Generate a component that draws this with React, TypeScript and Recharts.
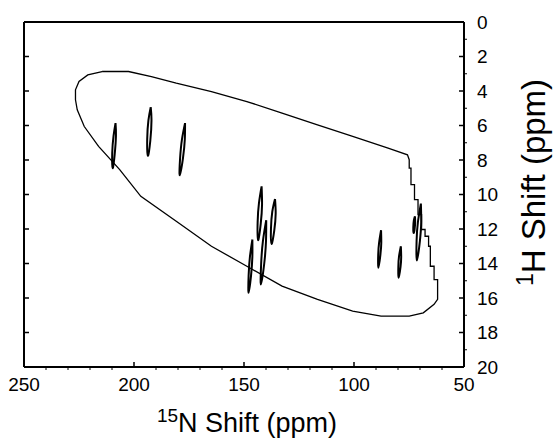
import { ComposedChart, Line, XAxis, YAxis, Label } from "recharts";

const FONT = '"Liberation Sans", Arial, Helvetica, sans-serif';

// axis ticks
const N_TICKS = [50, 60, 70, 80, 90, 100, 110, 120, 130, 140, 150, 160, 170, 180, 190, 200, 210, 220, 230, 240, 250];
const N_LABELS = [50, 100, 150, 200, 250];
const N_TOP_TICKS = [100, 150, 200];
const H_TICKS = [0, 1, 2, 3, 4, 5, 6, 7, 8, 9, 10, 11, 12, 13, 14, 15, 16, 17, 18, 19, 20];
const H_LABELS = [0, 2, 4, 6, 8, 10, 12, 14, 16, 18, 20];
const H_LEFT_TICKS = [2, 4, 6, 8, 10, 12, 14, 16, 18];

// excitation envelope, [15N ppm, 1H ppm]
const ENVELOPE: [number, number][] = [
  [214.5, 2.87], [202.5, 2.87], [192.1, 3.16], [180.8, 3.55], [164.8, 4.03], [148.7, 4.61],
  [132.7, 5.28], [116.6, 5.96], [100.6, 6.63], [84.5, 7.31], [75.7, 7.7], [74.9, 7.98],
  [74.9, 8.47], [74.1, 8.47], [74.1, 9.43], [72.5, 9.43], [72.5, 10.3], [70.9, 10.3],
  [70.9, 11.17], [69.3, 11.17], [69.3, 12.03], [67.7, 12.03], [67.7, 12.42], [66.1, 12.42],
  [66.1, 13.0], [65.3, 13.0], [65.3, 14.16], [63.6, 14.16], [63.6, 14.93], [62.0, 14.93],
  [62.0, 16.08], [63.6, 16.37], [68.5, 16.86], [74.9, 17.05], [87.7, 17.05], [100.6, 16.76],
  [116.6, 16.08], [132.7, 15.31], [148.7, 14.16], [164.8, 13.0], [180.8, 11.55], [196.9, 10.11],
  [206.5, 8.56], [216.1, 7.21], [222.6, 6.06], [225.8, 5.09], [226.6, 4.51], [226.6, 3.93],
  [225.0, 3.45], [221.0, 3.07], [214.5, 2.87],
];

// cross peak contours, top -> right side -> bottom -> left side -> top
const PEAK_209: [number, number][] = [[208.4, 5.86], [208.2, 6.6], [208.8, 7.7], [209.7, 8.47], [209.9, 7.6], [209.3, 6.6], [208.4, 5.86]];
const PEAK_193: [number, number][] = [[192.4, 4.94], [192.05, 5.7], [192.6, 6.9], [193.7, 7.75], [194.0, 6.8], [193.45, 5.7], [192.4, 4.94]];
const PEAK_178: [number, number][] = [[176.8, 5.86], [176.9, 6.8], [177.75, 7.9], [179.2, 8.89], [179.05, 7.9], [178.2, 6.8], [176.8, 5.86]];
const PEAK_143: [number, number][] = [[142.0, 9.53], [141.8, 10.6], [142.4, 11.7], [143.6, 12.65], [143.8, 11.6], [143.2, 10.5], [142.0, 9.53]];
const PEAK_137: [number, number][] = [[135.9, 10.26], [135.6, 11.1], [136.25, 12.1], [137.5, 12.86], [137.75, 12.0], [137.15, 11.0], [135.9, 10.26]];
const PEAK_141: [number, number][] = [[139.9, 11.49], [140.0, 12.7], [140.8, 14.0], [142.3, 15.22], [142.2, 14.0], [141.4, 12.7], [139.9, 11.49]];
const PEAK_147: [number, number][] = [[146.2, 12.61], [146.2, 13.6], [146.8, 14.7], [147.9, 15.7], [147.9, 14.7], [147.3, 13.6], [146.2, 12.61]];
const PEAK_88: [number, number][] = [[87.7, 12.07], [87.6, 12.8], [88.0, 13.5], [88.9, 14.25], [89.0, 13.5], [88.6, 12.8], [87.7, 12.07]];
const PEAK_79: [number, number][] = [[78.7, 13.0], [78.55, 13.6], [78.85, 14.2], [79.7, 14.83], [79.85, 14.2], [79.55, 13.6], [78.7, 13.0]];
const PEAK_70: [number, number][] = [[69.6, 10.53], [69.45, 11.6], [70.05, 12.7], [71.4, 13.83], [71.55, 12.7], [70.95, 11.6], [69.6, 10.53]];
const PEAK_73: [number, number][] = [[72.3, 11.26], [72.2, 11.6], [72.45, 12.0], [72.9, 12.23], [73.05, 11.9], [72.8, 11.5], [72.3, 11.26]];

const PEAKS = [PEAK_209, PEAK_193, PEAK_178, PEAK_143, PEAK_137, PEAK_141, PEAK_147, PEAK_88, PEAK_79, PEAK_70, PEAK_73];

const toPts = (arr: [number, number][]) => arr.map(([n, h]) => ({ n, h }));

const BottomTick = ({ x, y, payload }: any) => {
  const v = payload.value;
  const major = N_LABELS.includes(v);
  return (
    <g>
      {major ? (
        <line x1={x} x2={x} y1={y} y2={y - 5} stroke="#000" strokeWidth={1.5} />
      ) : (
        <line x1={x} x2={x} y1={y} y2={y + 3} stroke="#000" strokeWidth={1} />
      )}
      {major && (
        <text x={x} y={y + 24} textAnchor="middle" fontSize={19} fontFamily={FONT} fill="#000">
          {v}
        </text>
      )}
    </g>
  );
};

const TopTick = ({ x, y }: any) => <line x1={x} x2={x} y1={y} y2={y + 5} stroke="#000" strokeWidth={1.5} />;

const LeftTick = ({ x, y }: any) => <line x1={x} x2={x + 5} y1={y} y2={y} stroke="#000" strokeWidth={1.5} />;

const RightTick = ({ x, y, payload }: any) => {
  const v = payload.value;
  const major = H_LABELS.includes(v);
  return (
    <g>
      {major ? (
        <line x1={x} x2={x - 5} y1={y} y2={y} stroke="#000" strokeWidth={1.5} />
      ) : (
        <line x1={x} x2={x + 3} y1={y} y2={y} stroke="#000" strokeWidth={1} />
      )}
      {major && (
        <text x={x + 13} y={y} dy="0.36em" textAnchor="start" fontSize={19} fontFamily={FONT} fill="#000">
          {v}
        </text>
      )}
    </g>
  );
};

const XTitle = ({ viewBox }: any) => {
  const cx = viewBox.x + viewBox.width / 2 + 3;
  const cy = viewBox.y + 65;
  return (
    <text x={cx} y={cy} textAnchor="middle" fontFamily={FONT} fill="#000">
      <tspan fontSize={19} dy={-10}>15</tspan>
      <tspan fontSize={27} dy={10}>N Shift (ppm)</tspan>
    </text>
  );
};

const YTitle = ({ viewBox }: any) => {
  const cx = viewBox.x + 81;
  const cy = viewBox.y + viewBox.height / 2 - 12;
  return (
    <text x={cx} y={cy} transform={`rotate(-90, ${cx}, ${cy})`} textAnchor="middle" fontFamily={FONT} fill="#000">
      <tspan fontSize={23} dy={-12}>1</tspan>
      <tspan fontSize={33} dy={12}>H Shift (ppm)</tspan>
    </text>
  );
};

export default function App() {
  const axisLine = { stroke: "#000", strokeWidth: 2 };
  return (
    <div style={{ position: "absolute", left: 0, top: 0, background: "#fff" }}>
      <ComposedChart width={553} height={439} margin={{ top: 21, right: 0, bottom: 0, left: 23 }}>
        <XAxis
          xAxisId="bottom"
          dataKey="n"
          type="number"
          domain={[50, 250]}
          reversed
          allowDataOverflow
          ticks={N_TICKS}
          interval={0}
          tick={<BottomTick />}
          tickLine={false}
          tickSize={0}
          tickMargin={0}
          axisLine={axisLine}
          height={72}
        >
          <Label content={<XTitle />} />
        </XAxis>
        <XAxis
          xAxisId="top"
          orientation="top"
          type="number"
          domain={[50, 250]}
          reversed
          allowDataOverflow
          ticks={N_TOP_TICKS}
          interval={0}
          tick={<TopTick />}
          tickLine={false}
          tickSize={0}
          tickMargin={0}
          axisLine={axisLine}
          height={1}
        />
        <YAxis
          yAxisId="left"
          orientation="left"
          type="number"
          domain={[0, 20]}
          reversed
          allowDataOverflow
          ticks={H_LEFT_TICKS}
          interval={0}
          tick={<LeftTick />}
          tickLine={false}
          tickSize={0}
          tickMargin={0}
          axisLine={axisLine}
          width={1}
        />
        <YAxis
          yAxisId="right"
          orientation="right"
          type="number"
          domain={[0, 20]}
          reversed
          allowDataOverflow
          ticks={H_TICKS}
          interval={0}
          tick={<RightTick />}
          tickLine={false}
          tickSize={0}
          tickMargin={0}
          axisLine={axisLine}
          width={89}
        >
          <Label content={<YTitle />} />
        </YAxis>

        <Line
          xAxisId="bottom"
          yAxisId="right"
          data={toPts(ENVELOPE)}
          dataKey="h"
          type="linear"
          stroke="#000"
          strokeWidth={1.3}
          dot={false}
          activeDot={false}
          isAnimationActive={false}
        />
        {PEAKS.map((p, i) => (
          <Line
            key={i}
            xAxisId="bottom"
            yAxisId="right"
            data={toPts(p)}
            dataKey="h"
            type="natural"
            stroke="#000"
            strokeWidth={2}
            dot={false}
            activeDot={false}
            isAnimationActive={false}
          />
        ))}
      </ComposedChart>
    </div>
  );
}
